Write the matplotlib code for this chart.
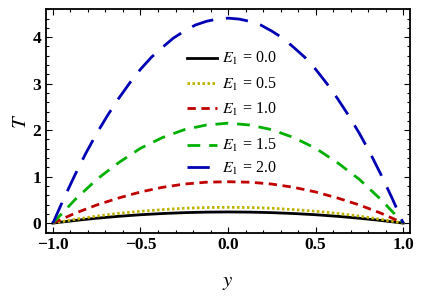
import numpy as np
import matplotlib
matplotlib.use('Agg')
import matplotlib.pyplot as plt
from matplotlib.ticker import MultipleLocator

plt.rcParams['font.family'] = ['Liberation Serif', 'DejaVu Serif']
plt.rcParams['mathtext.fontset'] = 'stix'

# Values.
y = [-1.0, -0.875, -0.75, -0.625, -0.5, -0.375, -0.25, -0.125, 0.0,
     0.125, 0.25, 0.375, 0.5, 0.625, 0.75, 0.875, 1.0]
T_00 = [0.0, 0.056, 0.105, 0.146, 0.18, 0.206, 0.225, 0.236, 0.24,
        0.236, 0.225, 0.206, 0.18, 0.146, 0.105, 0.056, 0.0]
T_05 = [0.0, 0.08, 0.15, 0.21, 0.255, 0.29, 0.32, 0.335, 0.34,
        0.335, 0.32, 0.29, 0.255, 0.21, 0.15, 0.08, 0.0]
T_10 = [0.0, 0.21, 0.39, 0.54, 0.67, 0.77, 0.84, 0.88, 0.89,
        0.88, 0.84, 0.77, 0.67, 0.54, 0.39, 0.21, 0.0]
T_15 = [0.0, 0.50, 0.94, 1.30, 1.61, 1.84, 2.01, 2.11, 2.15,
        2.11, 2.01, 1.84, 1.61, 1.30, 0.94, 0.50, 0.0]
# finer grid for the tall blue curve
y_fine = [-1.0, -0.9375, -0.875, -0.8125, -0.75, -0.6875, -0.625, -0.5625, -0.5,
          -0.4375, -0.375, -0.3125, -0.25, -0.1875, -0.125, -0.0625, 0.0,
          0.0625, 0.125, 0.1875, 0.25, 0.3125, 0.375, 0.4375, 0.5,
          0.5625, 0.625, 0.6875, 0.75, 0.8125, 0.875, 0.9375, 1.0]
T_20 = [0.0, 0.53, 1.03, 1.50, 1.93, 2.32, 2.68, 3.01, 3.31,
        3.57, 3.78, 3.98, 4.13, 4.26, 4.34, 4.39, 4.41,
        4.39, 4.34, 4.26, 4.13, 3.98, 3.78, 3.57, 3.31,
        3.01, 2.68, 2.32, 1.93, 1.50, 1.03, 0.53, 0.0]
E1 = ['0.0', '0.5', '1.0', '1.5', '2.0']

fig = plt.figure(figsize=(4.22, 3.0), dpi=100)
ax = fig.add_axes([0.108, 0.223, 0.864, 0.746])

lw = 2.0
l0, = ax.plot(y, T_00, c='black', lw=lw, ls='-')
l1, = ax.plot(y, T_05, c='#bdb300', lw=lw, ls=(0, (0.9, 0.9)))
l2, = ax.plot(y, T_10, c='#c00000', lw=lw, ls=(0, (3.0, 2.0)))
l3, = ax.plot(y, T_15, c='#00b000', lw=lw, ls=(0, (4.6, 3.2)))
l4, = ax.plot(y_fine, T_20, c='#0000b4', lw=lw, ls=(0, (8.0, 4.6)))

ax.set_xlim(-1.042, 1.04)
ax.set_ylim(-0.215, 4.6)
ax.xaxis.set_major_locator(MultipleLocator(0.5))
ax.xaxis.set_minor_locator(MultipleLocator(0.1))
ax.yaxis.set_major_locator(MultipleLocator(1))
ax.yaxis.set_minor_locator(MultipleLocator(0.2))
ax.xaxis.set_major_formatter(plt.FuncFormatter(lambda v, p: ('%.1f' % v).replace('-', '\u2212')))
ax.tick_params(which='both', direction='in', top=True, right=True, width=0.8)
ax.tick_params(which='major', length=4, labelsize=12.5, pad=3)
ax.tick_params(which='minor', length=2)
for t in ax.get_xticklabels() + ax.get_yticklabels():
    t.set_fontweight('bold')
for s in ax.spines.values():
    s.set_linewidth(1.3)

ax.set_xlabel('$y$', fontsize=15, labelpad=14)
ax.set_ylabel('$T$', fontsize=15, labelpad=1)

lines = [l0, l1, l2, l3, l4]
labels = ['$E_1$ = ' + e for e in E1]
leg1 = ax.legend(lines[:3], labels[:3], loc='center left', frameon=False,
                 bbox_to_anchor=(187 / 422, 1 - 84 / 300), bbox_transform=fig.transFigure,
                 borderpad=0, handlelength=1.9, handletextpad=0.3, labelspacing=0.5,
                 fontsize=11.5, borderaxespad=0)
ax.add_artist(leg1)
ax.legend(lines[3:], labels[3:], loc='center left', frameon=False,
          bbox_to_anchor=(187 / 422, 1 - 157 / 300), bbox_transform=fig.transFigure,
          borderpad=0, handlelength=1.9, handletextpad=0.3, labelspacing=0.35,
          fontsize=11.5, borderaxespad=0)

fig.savefig('out.png', dpi=100)
